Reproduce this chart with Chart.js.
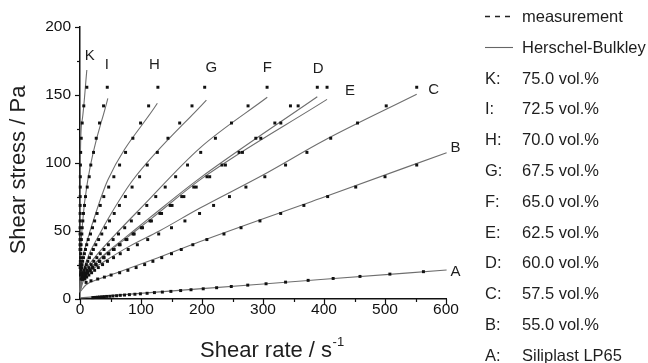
<!DOCTYPE html>
<html>
<head>
<meta charset="utf-8">
<title>Shear stress vs shear rate</title>
<script src="https://cdn.jsdelivr.net/npm/chart.js@4.4.1/dist/chart.umd.min.js"></script>
<style>
  body { margin: 0; background: #fff; }
  #box { position: relative; width: 648px; height: 363px; overflow: hidden; font-family: "Liberation Sans", Arial, sans-serif; }
  #chart { position: absolute; left: 0; top: 0; }
  .row { position: absolute; left: 485px; width: 163px; height: 20px; line-height: 20px; font-size: 16.5px; color: #1e1e1e; white-space: nowrap; }
  .row .key { position: absolute; left: 0; top: 0; }
  .row .txt { position: absolute; left: 37px; top: 0; }
</style>
</head>
<body>
<div id="box">
  <canvas id="chart" width="648" height="363"></canvas>
  <div id="legend"></div>
</div>
<script>
"use strict";

// measured points [shear rate 1/s, shear stress Pa]
const measK = [[11.2,155.7],[6.2,142.0],[3.6,129.4],[2.0,118.2],[1.1,107.8],[0.7,98.5],[0.5,89.9],[0.4,82.3],[0.3,75.3],[0.25,68.8],[0.2,62.9],[0.15,57.4],[0.12,52.4],[0.1,47.8],[0.08,43.7],[0.06,39.9],[0.05,36.4]];
const measI = [[44.7,155.7],[38.6,142.0],[32.0,129.4],[26.6,118.2],[22.2,107.8],[17.7,98.5],[15.1,89.9],[11.8,82.3],[9.0,75.3],[7.4,68.8],[5.7,62.9],[4.6,57.4],[3.6,52.4],[3.0,47.8],[2.3,43.7],[1.8,39.9],[1.4,36.4],[1.1,33.3],[0.8,30.4],[0.6,27.7],[0.45,25.3],[0.3,23.1]];
const measH = [[127.7,155.7],[112.5,142.0],[99.3,129.4],[86.7,118.2],[74.7,107.8],[64.9,98.5],[55.5,89.9],[47.0,82.3],[39.0,75.3],[33.2,68.8],[28.0,62.9],[24.0,57.4],[20.5,52.4],[17.2,47.8],[13.5,43.7],[11.0,39.9],[9.0,36.4],[7.2,33.3],[5.7,30.4],[4.4,27.7],[3.4,25.3],[2.6,23.1],[1.9,21.1],[1.3,19.3],[0.9,17.6]];
const measG = [[204.4,155.7],[183.6,142.0],[163.4,129.4],[144.2,118.2],[126.8,107.8],[110.3,98.5],[97.7,89.9],[85.4,82.3],[74.4,75.3],[64.6,68.8],[56.1,62.9],[48.4,57.4],[41.7,52.4],[35.7,47.8],[30.5,43.7],[25.9,39.9],[21.9,36.4],[18.5,33.3],[15.5,30.4],[12.8,27.7],[10.5,25.3],[8.5,23.1],[6.8,21.1],[5.4,19.3],[4.1,17.6],[3.0,16.1],[2.1,14.7]];
const measF = [[306.7,155.7],[275.5,142.0],[248.3,129.4],[222.0,118.2],[197.9,107.8],[176.3,98.5],[156.8,89.9],[139.7,82.3],[124.2,75.3],[109.5,68.8],[96.6,62.9],[84.2,57.4],[73.3,52.4],[63.1,47.8],[54.3,43.7],[46.5,39.9],[39.3,36.4],[33.2,33.3],[27.6,30.4],[22.6,27.7],[18.4,25.3],[14.7,23.1],[11.6,21.1],[8.9,19.3],[6.6,17.6],[4.7,16.1],[3.2,14.7]];
const measD = [[389.0,155.7],[345.0,142.0],[319.4,129.4],[288.2,118.2],[260.8,107.8],[232.8,98.5],[208.2,89.9],[186.5,82.3],[166.8,75.3],[147.8,68.8],[131.0,62.9],[114.8,57.4],[100.5,52.4],[87.0,47.8],[75.3,43.7],[64.5,39.9],[54.9,36.4],[46.4,33.3],[38.7,30.4],[31.8,27.7],[25.9,25.3],[20.7,23.1],[16.3,21.1],[12.5,19.3],[9.2,17.6],[6.6,16.1],[4.5,14.7]];
const measE = [[405.0,155.7],[357.6,142.0],[329.2,129.4],[296.4,118.2],[266.3,107.8],[238.4,98.5],[212.6,89.9],[190.5,82.3],[170.3,75.3],[150.9,68.8],[133.7,62.9],[117.1,57.4],[102.5,52.4],[88.8,47.8],[76.9,43.7],[65.8,39.9],[56.0,36.4],[47.3,33.3],[39.5,30.4],[32.4,27.7],[26.4,25.3],[21.1,23.1],[16.6,21.1],[12.7,19.3],[9.4,17.6],[6.8,16.1],[4.6,14.7]];
const measC = [[552,155.7],[502,142.0],[455,129.4],[411,118.2],[372,107.8],[337,98.5],[303,89.9],[272,82.3],[245,75.3],[219,68.8],[196,62.9],[172,57.4],[150,52.4],[129,47.8],[111,43.7],[94,39.9],[79,36.4],[66,33.3],[55,30.4],[45,27.7],[37,25.3],[30,23.1],[24,21.1],[19,19.3],[14.5,17.6],[11,16.1],[8,14.7]];
const measB = [[552,98.5],[500,89.9],[452,82.3],[406,75.3],[367,68.8],[329,62.9],[295,57.4],[264,52.4],[236,47.8],[208,43.7],[185,39.9],[166,36.4],[150,33.3],[134,30.4],[119.5,27.7],[106,25.3],[92,23.1],[78.5,21.1],[65,19.3],[51,17.6],[40,16.1],[29,14.7],[18,13.4],[10,12.2]];
const measA = [[563,20.1],[508,18.3],[459,16.6],[415,15.1],[374,13.7],[337,12.4],[305,11.2],[275,10.2],[248,9.2],[224,8.3],[202,7.5],[182,6.8],[165,6.2],[149,5.6],[135,5.1],[122,4.7],[110,4.2],[99,3.8],[90,3.5],[81,3.2],[73,2.9],[66,2.7],[60,2.4],[54,2.2],[49,2.0],[44,1.9],[40,1.7],[36,1.6],[32,1.4],[29,1.3],[26,1.2],[23,1.1],[21,1.0]];

// Herschel-Bulkley fit curves
const fitK = [[0,5],[0.3,60],[0.8,109.6],[3.6,131.6],[11.2,168.4]];
const fitI = [[0,5],[1,30],[4,55],[12.8,87.5],[45.6,147.6]];
const fitH = [[0,5],[1,18],[4,30],[10,40],[20,55],[45.6,87.5],[126.8,143.9]];
const fitG = [[0,5],[2,15],[6,22],[15,33],[30,46],[50,62],[86.7,87.5],[207.2,146.3]];
const fitF = [[0,5],[3,16],[10,22],[25,31],[55,46],[100,67],[196,110.8],[307,148.3]];
const fitD = [[0,5],[4,15],[12,20],[26,27],[46,35],[75,45.5],[115,60],[196,88.7],[389,148.7]];
const fitE = [[0,5],[4,15],[12.5,20],[27,27],[48,35],[78,45.5],[118,59.5],[200,88.7],[405,146.8]];
const fitC = [[0,5],[6,14],[20,21.5],[45,29],[80,38.5],[130,50],[196,66.7],[300,91.2],[401.5,116.9],[552,150.5]];
const fitB = [[0,5],[10,10.5],[30,14.5],[65,20],[120,29],[196,42.1],[401.5,75.2],[601,107.6]];
const fitA = [[0,0.8],[200,7.6],[400,14.5],[601,21.3]];

const curveCodes = ['K', 'I', 'H', 'G', 'F', 'D', 'E', 'C', 'B', 'A'];
const measSets = [measK, measI, measH, measG, measF, measD, measE, measC, measB, measA];
const fitSets = [fitK, fitI, fitH, fitG, fitF, fitD, fitE, fitC, fitB, fitA];
// pixel offset of each curve letter from the end of its fit line
const labelOffsets = [[3,-14],[-1,-33],[-3,-38],[5,-32],[0,-29],[1,-28],[23,-8],[17,-4],[9,-5],[9,2]];

const legendCodes = ['K', 'I', 'H', 'G', 'F', 'E', 'D', 'C', 'B', 'A'];
const legendNames = ['75.0 vol.%', '72.5 vol.%', '70.0 vol.%', '67.5 vol.%', '65.0 vol.%', '62.5 vol.%', '60.0 vol.%', '57.5 vol.%', '55.0 vol.%', 'Siliplast LP65'];

const FONT = '"Liberation Sans", Arial, sans-serif';

function toXY(list) {
    return list.map(p => ({ x: p[0], y: p[1] }));
}

// legend on the right, plain html
function buildLegend() {
    const box = document.getElementById('legend');
    const rows = [];
    rows.push({ key: '<svg class="key" width="28" height="20"><line x1="0" y1="10.5" x2="28" y2="10.5" stroke="#222" stroke-width="1.6" stroke-dasharray="5,5"/></svg>', txt: 'measurement' });
    rows.push({ key: '<svg class="key" width="28" height="20"><line x1="0" y1="10.5" x2="28" y2="10.5" stroke="#666" stroke-width="1.1"/></svg>', txt: 'Herschel-Bulkley' });
    legendCodes.forEach((c, i) => {
        rows.push({ key: '<span class="key">' + c + ':</span>', txt: legendNames[i] });
    });
    rows.forEach((r, i) => {
        const d = document.createElement('div');
        d.className = 'row';
        d.style.top = (6 + i * 30.8) + 'px';
        d.innerHTML = r.key + '<span class="txt">' + r.txt + '</span>';
        box.appendChild(d);
    });
}

const decor = {
    id: 'decor',
    afterDraw(chart) {
        const c = chart.ctx;
        const xs = chart.scales.x, ys = chart.scales.y, a = chart.chartArea;
        c.save();
        c.strokeStyle = '#111';
        c.lineWidth = 1.2;
        // tick marks, long on labelled ticks
        xs.ticks.forEach(t => {
            const px = Math.round(xs.getPixelForValue(t.value)) + 0.5;
            const len = t.value % 100 === 0 ? 5 : 3;
            c.beginPath(); c.moveTo(px, a.bottom); c.lineTo(px, a.bottom + len); c.stroke();
        });
        ys.ticks.forEach(t => {
            const py = Math.round(ys.getPixelForValue(t.value)) + 0.5;
            const len = t.value % 50 === 0 ? 5 : 3;
            c.beginPath(); c.moveTo(a.left, py); c.lineTo(a.left - len, py); c.stroke();
        });
        // curve letters
        c.fillStyle = '#1e1e1e';
        c.font = '15px ' + FONT;
        c.textAlign = 'center';
        c.textBaseline = 'middle';
        fitSets.forEach((f, i) => {
            const end = f[f.length - 1];
            const px = xs.getPixelForValue(end[0]) + labelOffsets[i][0];
            const py = ys.getPixelForValue(end[1]) + labelOffsets[i][1];
            c.fillText(curveCodes[i], px, py);
        });
        // axis titles
        c.fillStyle = '#1e1e1e';
        c.font = '22px ' + FONT;
        c.textAlign = 'left';
        c.textBaseline = 'alphabetic';
        const xt = 'Shear rate / s';
        c.fillText(xt, 200, 357);
        const w = c.measureText(xt).width;
        c.font = '13px ' + FONT;
        c.fillText('-1', 200 + w + 0.5, 346);
        c.font = '22px ' + FONT;
        c.translate(25, 170);
        c.rotate(-Math.PI / 2);
        c.textAlign = 'center';
        c.fillText('Shear stress / Pa', 0, 0);
        c.restore();
    }
};

function makeChart() {
    const datasets = [];
    measSets.forEach((m, i) => {
        datasets.push({
            label: curveCodes[i] + ' measurement',
            data: toXY(m),
            showLine: false,
            pointStyle: 'rect',
            pointRadius: 2.1,
            pointBorderWidth: 0,
            backgroundColor: '#111',
            borderColor: '#111',
            clip: false,
            order: 0
        });
    });
    fitSets.forEach((f, i) => {
        datasets.push({
            label: curveCodes[i] + ' Herschel-Bulkley',
            data: toXY(f),
            showLine: true,
            pointRadius: 0,
            borderColor: '#6e6e6e',
            borderWidth: 1.1,
            cubicInterpolationMode: 'monotone',
            clip: false,
            order: 1
        });
    });

    return new Chart(document.getElementById('chart'), {
        type: 'scatter',
        data: { datasets: datasets },
        options: {
            responsive: false,
            animation: false,
            devicePixelRatio: 1,
            layout: { padding: { left: 0, right: 202, top: 27, bottom: 0 } },
            plugins: { legend: { display: false }, tooltip: { enabled: false } },
            scales: {
                x: {
                    type: 'linear',
                    min: 0,
                    max: 600,
                    afterFit: s => { s.height = 64; },
                    grid: { display: false, drawTicks: false },
                    border: { display: true, color: '#111', width: 1.5 },
                    ticks: {
                        stepSize: 50,
                        padding: 1,
                        autoSkip: false,
                        maxRotation: 0,
                        color: '#111',
                        font: { family: FONT, size: 15.5 },
                        callback: v => (v % 100 === 0 ? v : '')
                    }
                },
                y: {
                    type: 'linear',
                    min: 0,
                    max: 200,
                    afterFit: s => { s.width = 80; },
                    grid: { display: false, drawTicks: false },
                    border: { display: true, color: '#111', width: 1.5 },
                    ticks: {
                        stepSize: 25,
                        padding: 9,
                        autoSkip: false,
                        color: '#111',
                        font: { family: FONT, size: 15.5 },
                        callback: v => (v % 50 === 0 ? v : '')
                    }
                }
            }
        },
        plugins: [decor]
    });
}

buildLegend();
makeChart();
</script>
</body>
</html>
